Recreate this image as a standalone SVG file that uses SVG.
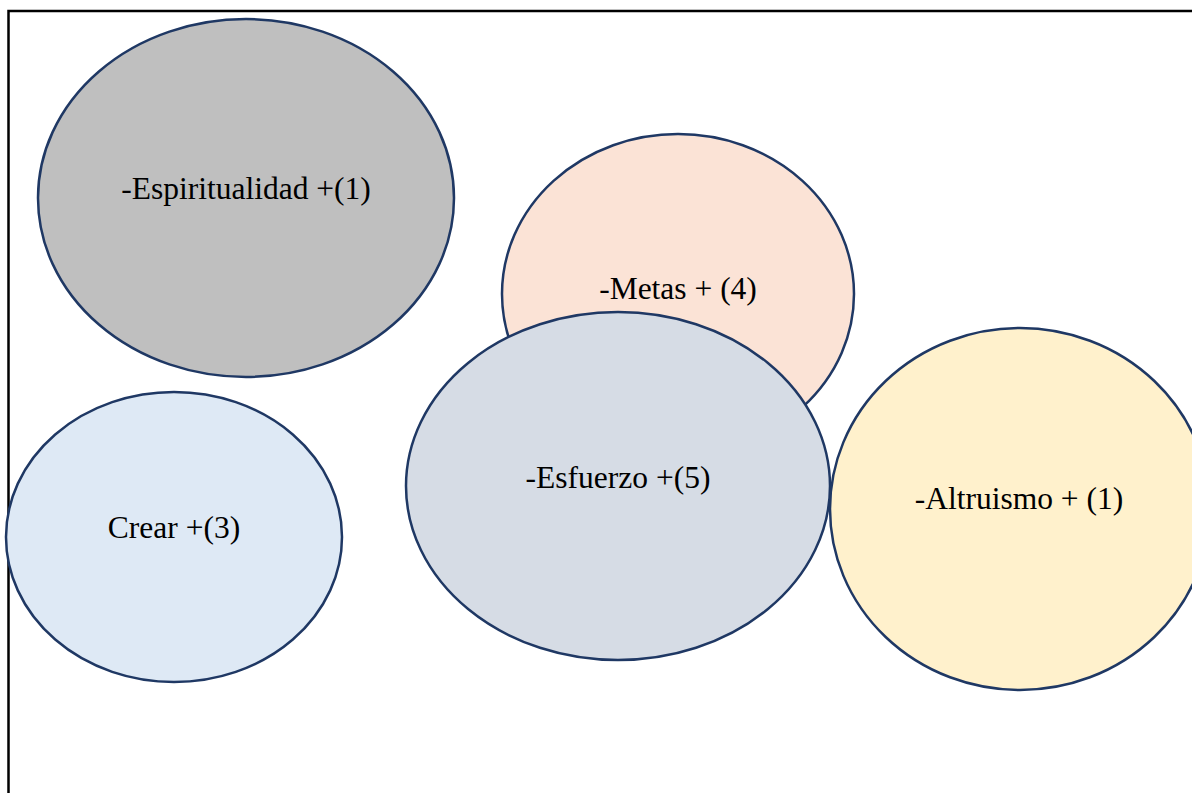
<svg xmlns="http://www.w3.org/2000/svg" width="1192" height="793" viewBox="0 0 1192 793">
  <style>
    .node ellipse { stroke: #1f3864; stroke-width: 2.5; }
    .node text { font-family: "Liberation Serif", "Times New Roman", serif; font-size: 31.5px; fill: #000; text-anchor: middle; }
  </style>
  <rect x="0" y="0" width="1192" height="793" fill="#ffffff"/>
  <!-- outer frame -->
  <rect x="8.5" y="11" width="1220" height="820" fill="none" stroke="#000" stroke-width="2.5"/>

  <g id="espiritualidad" class="node">
    <ellipse cx="246" cy="198" rx="208" ry="179" fill="#bfbfbf"/>
    <text x="246" y="199">-Espiritualidad +(1)</text>
  </g>
  <g id="metas" class="node">
    <ellipse cx="678" cy="294" rx="176" ry="160" fill="#fbe3d6"/>
    <text x="678" y="299">-Metas + (4)</text>
  </g>
  <g id="crear" class="node">
    <ellipse cx="174" cy="537" rx="168" ry="145" fill="#dee9f5"/>
    <text x="174" y="538">Crear +(3)</text>
  </g>
  <g id="esfuerzo" class="node">
    <ellipse cx="618" cy="486" rx="212" ry="174" fill="#d6dce5"/>
    <text x="618" y="488">-Esfuerzo +(5)</text>
  </g>
  <g id="altruismo" class="node">
    <ellipse cx="1020" cy="509" rx="190" ry="181" fill="#fff1cc"/>
    <text x="1019" y="509">-Altruismo + (1)</text>
  </g>

  <g id="connectors"/>
</svg>
